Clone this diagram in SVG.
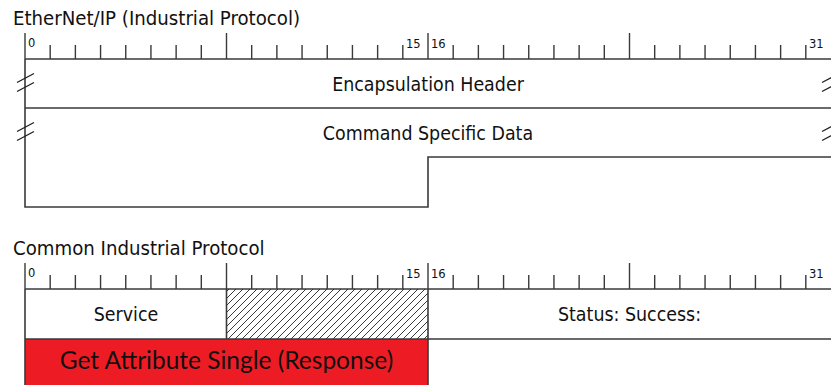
<svg xmlns="http://www.w3.org/2000/svg" width="831" height="385" viewBox="0 0 831 385">
<style>
.title{font-family:"DejaVu Sans Condensed","DejaVu Sans",sans-serif;font-stretch:condensed;font-size:20.2px;fill:#111}
.cell{font-family:"DejaVu Sans Condensed","DejaVu Sans",sans-serif;font-stretch:condensed;font-size:19.4px;fill:#111;text-anchor:middle}
.num{font-family:"DejaVu Sans",sans-serif;font-size:11.5px;fill:#111}
.ln{stroke:#3a3a3a;stroke-width:1.6;fill:none}
.tk{stroke:#3a3a3a;stroke-width:1.4;fill:none}
.brk{stroke:#222;stroke-width:1.4;fill:none}
.red{font-family:Lato,"Open Sans",sans-serif;font-size:24.5px;fill:#111;text-anchor:middle}
</style>
<defs>
<pattern id="hatch" patternUnits="userSpaceOnUse" width="7" height="7">
<path d="M-1,1 L1,-1 M0,7 L7,0 M6,8 L8,6" stroke="#222" stroke-width="0.9"/>
</pattern>
<g id="ruler-ticks">
<path class="tk" d="M25.00,-26V0 M50.19,-14V0 M75.38,-14V0 M100.56,-14V0 M125.75,-14V0 M150.94,-14V0 M176.13,-14V0 M201.31,-14V0 M226.50,-26V0 M251.69,-14V0 M276.88,-14V0 M302.06,-14V0 M327.25,-14V0 M352.44,-14V0 M377.63,-14V0 M402.81,-14V0 M428.00,-26V0 M453.19,-14V0 M478.38,-14V0 M503.56,-14V0 M528.75,-14V0 M553.94,-14V0 M579.13,-14V0 M604.31,-14V0 M629.50,-26V0 M654.69,-14V0 M679.88,-14V0 M705.06,-14V0 M730.25,-14V0 M755.44,-14V0 M780.63,-14V0 M805.81,-14V0"/>
<path class="ln" d="M25,0H831"/>
<text class="num" x="28" y="-12">0</text>
<text class="num" x="406" y="-11">15</text>
<text class="num" x="431" y="-11">16</text>
<text class="num" x="809" y="-11">31</text>
</g>
<g id="brk">
<path class="brk" d="M-8.5,8.5 L8.5,-0.5 M-8.5,17.5 L8.5,8.5"/>
</g>
</defs>

<g id="ethernet-ip">
<text class="title" x="13" y="25">EtherNet/IP (Industrial Protocol)</text>
<use href="#ruler-ticks" y="59"/>
<g id="encapsulation-header">
<text class="cell" x="428" y="91">Encapsulation Header</text>
</g>
<g id="command-specific-data">
<text class="cell" x="428" y="140">Command Specific Data</text>
</g>
<path class="ln" d="M25,108H831 M25,59V207H428V157H831"/>
<use href="#brk" x="25.5" y="74"/>
<use href="#brk" x="25.5" y="123"/>
<use href="#brk" x="830.5" y="74"/>
<use href="#brk" x="830.5" y="123"/>
</g>

<g id="cip">
<text class="title" x="13" y="255">Common Industrial Protocol</text>
<use href="#ruler-ticks" y="289"/>
<rect id="red-bg" x="25" y="339" width="403" height="50" fill="#ED1C24"/>
<rect x="226.5" y="289" width="201.5" height="50" fill="url(#hatch)"/>
<g id="service">
<text class="cell" x="126" y="321">Service</text>
</g>
<g id="reserved">
<rect x="226.5" y="289" width="201.5" height="50" fill="none"/>
</g>
<g id="status">
<text class="cell" x="629.5" y="321">Status: Success:</text>
</g>
<g id="get-attribute-single">
<text class="red" x="226.5" y="369">Get Attribute Single (Response)</text>
</g>
<path class="ln" d="M25,339H831 M25,289V385 M226.5,289V339 M428,289V385"/>
</g>
</svg>
